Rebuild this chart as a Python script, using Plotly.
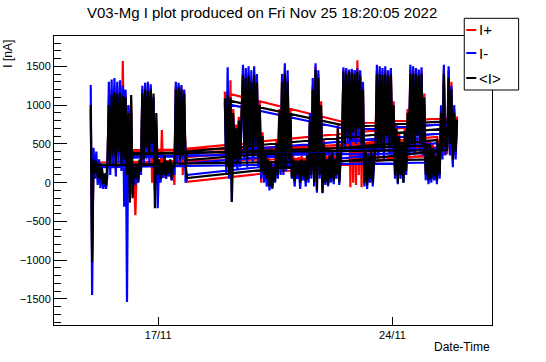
import plotly.graph_objects as go
import pandas as pd

# ---------------- data ----------------
# Records were appended in several chunks (not in time order); each chunk is
# sampled hourly. Order below is the order in which the points are stored.
chunk_names = ["A", "B", "V", "D", "E", "F", "G", "F2", "G2"]
chunk_starts = ["2022-11-14 23:40", "2022-11-25 15:15", "2022-11-22 17:55",
                "2022-11-18 23:50", "2022-11-17 15:35", "2022-11-25 08:05",
                "2022-11-15 22:39", "2022-11-25 03:03", "2022-11-15 04:42"]

# <I> (nA)
mean_A = [1000, -1025, 300, 120, 280, 60, 230, 40, 180, -20,
          120, -40, 300, 1000, 250, 1130, 350, 1170, 200, 1150,
          400, 1160, 250, 1120, 300, 1100, 100, 900, -260, 1130,
          -200, 200, 60, 250, 20, 300, 150, 1150, 300, 1200,
          450, 1180, 350, 1200, 500, 1150, -330, 900, 100, 300,
          50, 250, 100, 350, 80, 280, 120, 300, 50, 250,
          200, 1200, 350, 1230, 300, 1200, 450, 1150, 250, 60]
mean_B = [420, 1350, 500, 1200, 300, 900, 400, 800]
mean_V = [720]
mean_D = [1070, 200, 1130, 100, 1100, -250, 900, 300, 700, 250,
          800, 300, 900, 1390, 400, 1350, 300, 1380, 450, 1300,
          350, 1390, 500, 1290, 300, 1000, 150, 600, 100, 400,
          50, 300, -50, 250, -80, 200, 20, 500, 100, 900,
          200, 1300, 150, 1410, 200, 1300, 300, 900, 70, 300,
          20, 250, 100, 280, 0, 300, 80, 250, 20, 350,
          50, 800, 100, 1200, 0, 1450, -100, 1350, 100, 1000,
          -130, 500, 0, 300, -30, 350, 50, 420, 20, 300,
          100, 700, 0, 350, 500, 1430, 500, 1400, 600, 1430,
          550, 1420, 650, 1400, 600, 1430, 700, 1380, 500, 1200,
          0, 400, -30, 350, 50, 400, 0, 300, 500, 1400,
          450, 1400, 500, 1390, 400, 1410, 600, 1380, 450, 1400,
          500, 1000, 100, 700, 0, 600, 100, 500, 0, 650,
          150, 900, 450, 1400, 500, 1410, 460, 1400, 600, 1380,
          500, 1400, 450, 1100, 100, 500, 30, 400, 50, 450,
          80, 350, 30, 500, 100, 900, 400, 1400, 450, 700]
mean_E = [395, 900, 350, 1000, 400, 290]
mean_F = [550, 200, 450, 420]
mean_G = [380, 1100, 400, 360]
mean_F2 = [480, 100, 400, 300]
mean_G2 = [230, 100, 200, 80]

# I- (nA)
minus_A = [1260, -1450, 450, 50, 400, -30, 300, -70, 200, -80,
           80, -80, 100, 1300, 100, 1330, 200, 1350, 80, 1300,
           250, 1320, 150, 1250, -310, 1200, -1540, 1000, -100, 900,
           -150, 150, -30, 180, 0, 250, 100, 1250, 200, 1290,
           300, 1300, 250, 1270, 400, 1100, -100, 700, -330, 250,
           0, 200, 60, 300, 50, 250, 80, 260, 30, 200,
           100, 1300, 250, 1290, 200, 1260, 350, 1200, 0, 100]
minus_B = [460, 1500, 350, 1250, 200, 1000, 300, 760]
minus_V = [680]
minus_D = [1020, 100, 1490, 50, 1000, -250, 800, 200, 600, 150,
           700, 200, 800, 1520, 300, 1480, 200, 1500, 350, 1450,
           250, 1500, 400, 1400, 200, 900, 50, 500, 0, 300,
           -50, 200, -100, 150, -60, 150, 0, 400, 50, 800,
           100, 1400, 100, 1540, 150, 1450, 200, 800, 50, 250,
           -50, 200, 50, 200, -80, 250, 30, 200, -50, 300,
           0, 900, 50, 1350, -50, 1540, -130, 1450, 50, 900,
           -135, 400, -30, 250, -50, 300, 0, 350, -20, 250,
           50, 600, -30, 300, 400, 1490, 400, 1480, 500, 1460,
           450, 1470, 550, 1450, 500, 1480, 600, 1450, 400, 1300,
           -50, 350, -80, 300, 0, 350, -50, 250, 400, 1520,
           350, 1500, 400, 1480, 300, 1500, 500, 1450, 350, 1480,
           400, 900, 50, 600, -20, 500, 50, 400, 0, 550,
           100, 800, 350, 1520, 400, 1500, 350, 1480, 500, 1460,
           400, 1490, 350, 1000, 30, 400, -20, 300, 0, 350,
           30, 300, -20, 400, 50, 1000, 300, 1520, 350, 640]
minus_E = [360, 950, 300, 1050, 350, 250]
minus_F = [510, 150, 400, 380]
minus_G = [340, 1200, 350, 320]
minus_F2 = [440, 50, 350, 260]
minus_G2 = [200, 0, 250, 30]

# I+ (nA)
plus_A = [950, -950, 320, 100, 300, 40, 250, 20, 160, -30,
          100, -60, 250, 1100, 300, 1200, 300, 1250, 150, 1200,
          350, 1250, 200, 1570, 250, 1150, 50, 1000, -150, 1050,
          -100, 150, -420, 200, 0, 250, 150, 1200, 250, 1280,
          400, 1250, 300, 1230, 0, 1100, -100, 800, 100, 300,
          20, 680, 60, 300, 50, 250, 80, 280, 30, 220,
          -30, 1250, 300, 1260, 250, 1240, 100, 1180, 200, 10]
plus_B = [380, 1450, 450, 1300, 250, 950, 350, 840]
plus_V = [760]
plus_D = [1160, 300, 1100, 200, 1320, -100, 950, 350, 750, 300,
          850, 350, 950, 1450, 450, 1400, 350, 1420, 500, 1350,
          400, 1430, 550, 1330, 350, 1050, 0, 650, 150, 450,
          100, 350, 0, 300, -30, 250, 60, 550, 150, 950,
          250, 1350, 200, 1480, 250, 1350, 350, 950, 100, 350,
          60, 300, 150, 330, 50, 350, 120, 300, 60, 400,
          100, 850, 150, 1250, 50, 1500, -50, 1400, 150, 1050,
          -80, 550, 50, 350, 0, 400, 100, 450, 60, 350,
          150, 750, 50, 400, 550, 1460, 550, 1450, 650, 1450,
          -60, 1440, 0, 1450, -30, 1580, 100, 1420, -60, 1250,
          50, 450, 0, 400, 100, 450, 50, 350, 550, 1450,
          300, 1450, 550, 1430, 450, 1450, 650, 1420, 500, 1450,
          550, 1050, 150, 750, 50, 650, 150, 550, 50, 700,
          200, 950, 500, 1450, 550, 1450, 700, 1440, 650, 1420,
          550, 1440, 500, 1150, 150, 550, 80, 450, 100, 500,
          130, 400, 80, 550, 150, 950, 450, 1450, 500, 760]
plus_E = [430, 850, 400, 950, 450, 330]
plus_F = [590, 250, 500, 460]
plus_G = [420, 1150, 450, 400]
plus_F2 = [520, 150, 450, 340]
plus_G2 = [260, 80, 220, 60]

x_tick_vals = ["2022-11-17", "2022-11-24"]
x_tick_text = ["17/11", "24/11"]
y_tick_vals = [-1500, -1000, -500, 0, 500, 1000, 1500]

# ---------------- build series ----------------
plus_chunks = [plus_A, plus_B, plus_V, plus_D, plus_E, plus_F, plus_G, plus_F2, plus_G2]
minus_chunks = [minus_A, minus_B, minus_V, minus_D, minus_E, minus_F, minus_G, minus_F2, minus_G2]
mean_chunks = [mean_A, mean_B, mean_V, mean_D, mean_E, mean_F, mean_G, mean_F2, mean_G2]

times, i_plus, i_minus, i_mean = [], [], [], []
for start, p, m, a in zip(chunk_starts, plus_chunks, minus_chunks, mean_chunks):
    assert len(p) == len(m) == len(a)
    times += list(pd.date_range(start, periods=len(p), freq="h"))
    i_plus += p
    i_minus += m
    i_mean += a

FONT = "Liberation Sans, Arial, Helvetica, sans-serif"
W, H = 546, 362
L, R, T, B = 54.3, 54.3, 36, 37
PW, PH = W - L - R, H - T - B


def px(x):
    return (x - L) / PW


def py(y):
    return (H - B - y) / PH


fig = go.Figure()
for name, ys, col in [("I+", i_plus, "#ff0000"), ("I-", i_minus, "#0000ff"), ("<I>", i_mean, "#000000")]:
    fig.add_trace(go.Scatter(x=times, y=ys, mode="lines", name=name,
                             line=dict(color=col, width=2.2, simplify=False),
                             showlegend=False, hoverinfo="skip"))

fig.update_layout(
    width=W, height=H,
    margin=dict(l=L, r=R, t=T, b=B, pad=0, autoexpand=False),
    paper_bgcolor="white", plot_bgcolor="white",
    font=dict(family=FONT, color="black", size=11),
    xaxis=dict(type="date", range=["2022-11-13 21:20", "2022-11-26 23:21"],
               tickvals=x_tick_vals, ticktext=x_tick_text, automargin=False,
               ticks="inside", ticklen=8, tickcolor="black", tickwidth=1,
               showline=True, linecolor="black", linewidth=1, mirror=True,
               showgrid=False, zeroline=False, tickfont=dict(size=11)),
    yaxis=dict(range=[-1836, 1892], tickvals=y_tick_vals, automargin=False,
               ticks="inside", ticklen=13, tickcolor="black", tickwidth=1,
               minor=dict(ticks="inside", ticklen=7, dtick=100, tickcolor="black", showgrid=False),
               showline=True, linecolor="black", linewidth=1, mirror=True,
               showgrid=False, zeroline=False, tickfont=dict(size=11)),
)

annotations = [
    dict(text="V03-Mg I plot produced on Fri Nov 25 18:20:05 2022", x=px(262), y=py(12),
         xanchor="center", yanchor="middle", font=dict(size=15)),
    dict(text="Date-Time", x=1, y=py(347), xanchor="right", yanchor="middle", font=dict(size=12)),
    dict(text="I [nA]", x=px(8), y=py(54), xanchor="center", yanchor="middle",
         textangle=-90, font=dict(size=12)),
]
shapes = [dict(type="rect", xref="paper", yref="paper", x0=px(464), x1=px(518.3),
               y0=py(90), y1=py(18.3), line=dict(color="black", width=1),
               fillcolor="white", layer="above")]
for label, col, yy in [("I+", "#ff0000", 30), ("I-", "#0000ff", 53), ("<I>", "#000000", 78)]:
    shapes.append(dict(type="line", xref="paper", yref="paper", x0=px(466), x1=px(476),
                       y0=py(yy), y1=py(yy), line=dict(color=col, width=2), layer="above"))
    annotations.append(dict(text=label.replace("<", "&lt;").replace(">", "&gt;"), x=px(477), y=py(yy),
                            xanchor="left", yanchor="middle", font=dict(size=15)))
for a in annotations:
    a.update(xref="paper", yref="paper", showarrow=False)
fig.update_layout(annotations=annotations, shapes=shapes)

fig.write_html("out.html", config={"displayModeBar": False},
               post_script="document.body.style.margin='0';document.body.style.padding='0';")
